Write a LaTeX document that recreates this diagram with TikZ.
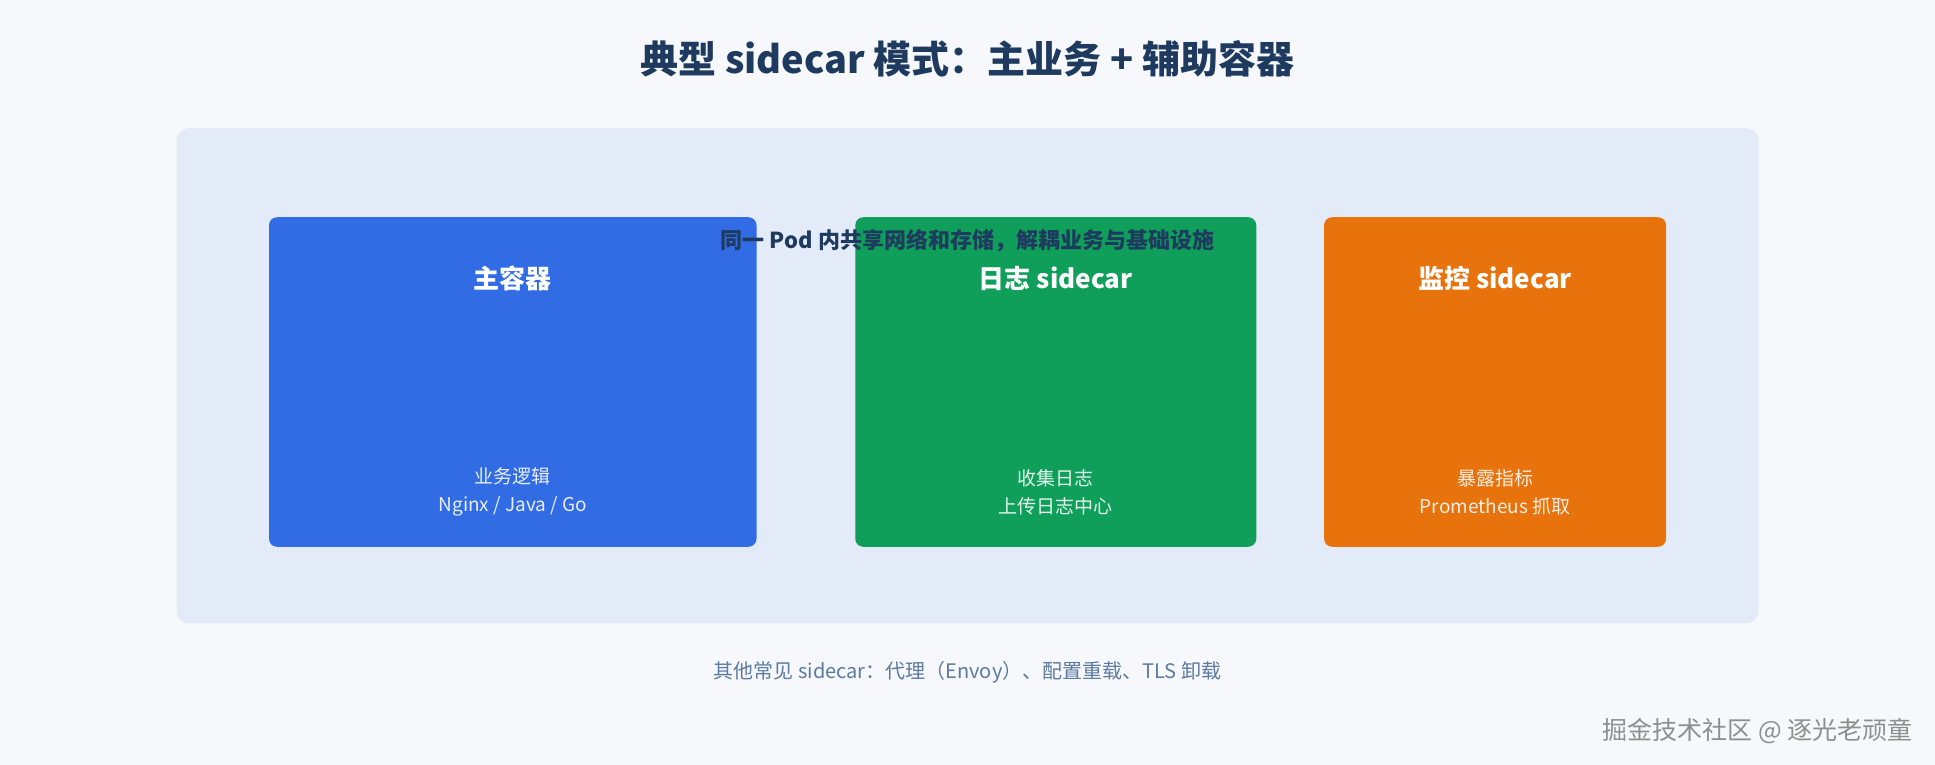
\documentclass[tikz,border=0pt]{standalone}
\usepackage{fontspec}
\setmainfont{Noto Sans CJK SC}
\usepackage{xcolor}
\usetikzlibrary{positioning, calc}

\definecolor{pagebg}{HTML}{F6F8FC}
\definecolor{podbg}{HTML}{E3EAF8}
\definecolor{navy}{HTML}{1E3A5F}
\definecolor{mainblue}{HTML}{326CE5}
\definecolor{loggreen}{HTML}{0F9F5A}
\definecolor{monorange}{HTML}{E8720C}
\definecolor{slate}{HTML}{5B7BA3}
\definecolor{markgray}{HTML}{8E8E8E}

\begin{document}
\begin{tikzpicture}[
        x=0.5pt, y=-0.5pt,
        pod/.style={rectangle, rounded corners=6pt, fill=podbg, minimum width=791pt, minimum height=247.5pt, inner sep=0pt},
        box/.style={rectangle, rounded corners=4pt, minimum height=164.75pt, inner sep=0pt},
        head/.style={text=white, font=\fontsize{13}{16}\selectfont\bfseries},
        desc/.style={text=white!88!black, align=center, font=\fontsize{9.5}{14.2}\selectfont}
    ]
        % background and margins
        \fill[pagebg] (0,0) rectangle (1935,765);
        \useasboundingbox (0,0) rectangle (1935,765);

        \node[text=navy, font=\fontsize{19}{22}\selectfont\bfseries] (title) at (967.5,59.2) {典型 sidecar 模式：主业务 + 辅助容器};

        \node[pod] (pod) at (967.5,375.75) {};

        % the three containers
        \node[box, fill=mainblue, minimum width=243.75pt] (main) at (512.75,382) {};
        \node[box, fill=loggreen, minimum width=200.5pt] (log) at (1055.75,382) {};
        \node[box, fill=monorange, minimum width=171pt] (mon) at (1495.1,382) {};

        \node[head] (mainhead) at ($(main.north)+(0,61.7)$) {主容器};
        \node[head] (loghead) at ($(log.north)+(0,61.7)$) {日志 sidecar};
        \node[head] (monhead) at ($(mon.north)+(0,61.7)$) {监控 sidecar};

        \node[desc, text=white!88!mainblue] (maindesc) at ($(main.south)+(0,-55)$) {业务逻辑\\Nginx / Java / Go};
        \node[desc, text=white!88!loggreen] (logdesc) at ($(log.south)+(0,-55)$) {收集日志\\上传日志中心};
        \node[desc, text=white!88!monorange] (mondesc) at ($(mon.south)+(0,-55)$) {暴露指标\\Prometheus 抓取};

        \node[text=navy, font=\fontsize{11}{13}\selectfont\bfseries] (podnote) at ($(pod.north)+(0,112.3)$) {同一 Pod 内共享网络和存储，解耦业务与基础设施};

        \node[text=slate, font=\fontsize{10}{12}\selectfont] (others) at (967.5,672.6) {其他常见 sidecar：代理（Envoy）、配置重载、TLS 卸载};

        \node[text=markgray, anchor=east, inner sep=0pt, font=\fontsize{12.5}{14}\selectfont] (mark) at (1913,730.6) {掘金技术社区 @ 逐光老顽童};
    \end{tikzpicture}
\end{document}
